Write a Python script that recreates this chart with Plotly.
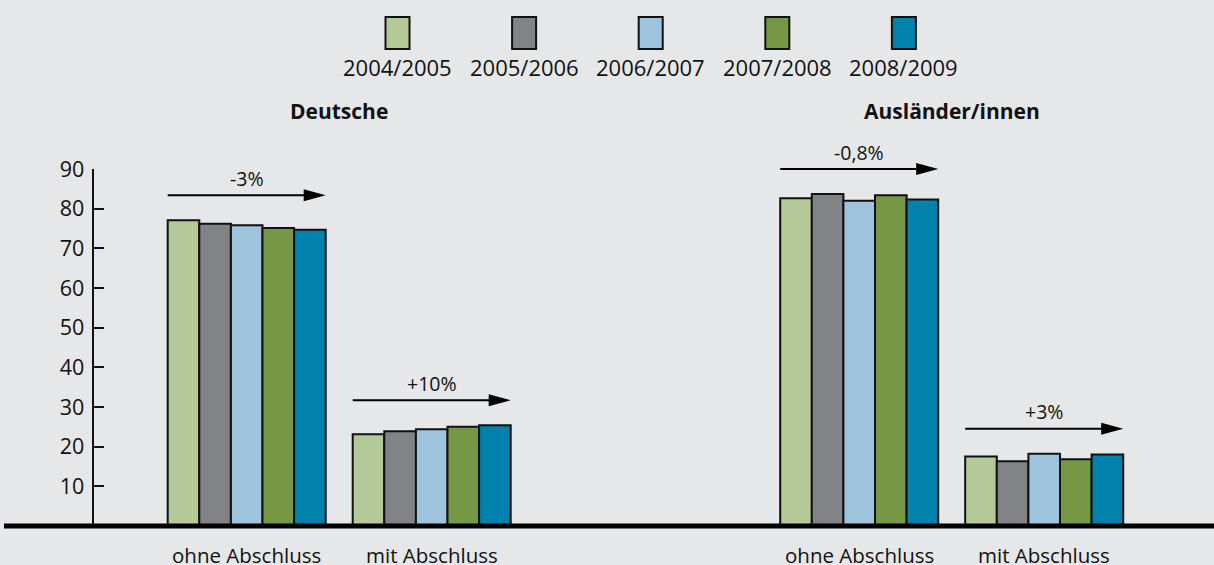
import plotly.graph_objects as go

# ---- data ----
years = ["2004/2005", "2005/2006", "2006/2007", "2007/2008", "2008/2009"]
groups = ["Deutsche", "Ausländer/innen"]
categories = ["ohne Abschluss", "mit Abschluss", "ohne Abschluss", "mit Abschluss"]
v_2004 = [77.1, 23.1, 82.6, 17.5]
v_2005 = [76.2, 23.9, 83.7, 16.3]
v_2006 = [75.8, 24.4, 82.0, 18.2]
v_2007 = [75.1, 25.0, 83.4, 16.8]
v_2008 = [74.7, 25.4, 82.3, 18.0]
change_labels = ["-3%", "+10%", "-0,8%", "+3%"]
y_ticks = [10, 20, 30, 40, 50, 60, 70, 80, 90]

series = [v_2004, v_2005, v_2006, v_2007, v_2008]
colors = ["#b5c998", "#828387", "#9ec4dd", "#769844", "#0082ac"]

# ---- layout constants (pixel-like x units) ----
W, H = 1214, 565
ML, MR, MT, MB = 4, 0, 169, 39
PH = H - MT - MB
x_pos = [246.7, 431.7, 859.2, 1044.2]
step = 185
group_w = 158
bargap = 1 - group_w / step
YMAX = 90
font_fam = "Open Sans, Noto Sans, sans-serif"
ink = "#111111"


def py_to_paper(py):
    return (H - MB - py) / PH


fig = go.Figure()
for name, vals, col in zip(years, series, colors):
    fig.add_trace(go.Bar(
        x=x_pos, y=vals, name=name,
        marker=dict(color=col, line=dict(color=ink, width=2)),
        cliponaxis=False, showlegend=False,
        hovertemplate="%{y}<extra>" + name + "</extra>",
    ))

shapes = []
annotations = []

# baseline
shapes.append(dict(type="line", xref="paper", yref="paper", x0=0, x1=1, y0=0, y1=0,
                   line=dict(color="#000000", width=5), layer="above"))

# arrows with change labels
head_len = 22
head_half = 6
for k, xc in enumerate(x_pos):
    vals_k = [s[k] for s in series]
    level = (max(vals_k) + 6.3) / YMAX
    x0 = xc - group_w / 2
    x1 = xc + group_w / 2
    shapes.append(dict(type="line", xref="x", yref="paper", x0=x0, x1=x1 - head_len + 2,
                       y0=level, y1=level, line=dict(color="#000000", width=2)))
    hh = head_half / PH
    shapes.append(dict(type="path", xref="x", yref="paper",
                       path=f"M {x1 - head_len},{level + hh} L {x1},{level} L {x1 - head_len},{level - hh} Z",
                       fillcolor="#000000", line=dict(color="#000000", width=0)))
    annotations.append(dict(xref="x", yref="paper", x=xc, y=level, yshift=17,
                            text=change_labels[k], showarrow=False,
                            font=dict(size=19.5, color=ink, family=font_fam),
                            xanchor="center", yanchor="middle"))
    annotations.append(dict(xref="x", yref="paper", x=xc, y=0, yshift=-29,
                            text=categories[k], showarrow=False,
                            font=dict(size=20.5, color=ink, family=font_fam),
                            xanchor="center", yanchor="middle"))

# group titles
for g, name in enumerate(groups):
    xc = (x_pos[2 * g] + x_pos[2 * g + 1]) / 2
    annotations.append(dict(xref="x", yref="paper", x=xc, y=py_to_paper(111),
                            text="<b>" + name + "</b>", showarrow=False,
                            font=dict(size=21, color=ink, family=font_fam),
                            xanchor="center", yanchor="middle"))

# custom legend: boxes above labels
leg_first = 397.5
leg_step = 126.6
box_w = 24
for i, (name, col) in enumerate(zip(years, colors)):
    cx = leg_first + i * leg_step
    shapes.append(dict(type="rect", xref="x", yref="paper",
                       x0=cx - box_w / 2, x1=cx + box_w / 2,
                       y0=py_to_paper(49), y1=py_to_paper(17),
                       fillcolor=col, line=dict(color=ink, width=2)))
    annotations.append(dict(xref="x", yref="paper", x=cx, y=py_to_paper(67),
                            text=name, showarrow=False,
                            font=dict(size=22, color=ink, family=font_fam),
                            xanchor="center", yanchor="middle"))

fig.update_layout(
    width=W, height=H,
    margin=dict(l=ML, r=MR, t=MT, b=MB, pad=0),
    paper_bgcolor="#e6e7e9", plot_bgcolor="#e6e7e9",
    barmode="group", bargap=bargap, bargroupgap=0,
    showlegend=False,
    shapes=shapes, annotations=annotations,
    xaxis=dict(range=[ML, W - MR], showgrid=False, zeroline=False, showline=False,
               showticklabels=False, ticks="", fixedrange=True),
    yaxis=dict(range=[0, YMAX], anchor="free", position=(93.3 - ML) / (W - ML - MR),
               tickvals=y_ticks, ticks="inside", ticklen=10, tickwidth=1.5, tickcolor=ink,
               showline=True, linecolor=ink, linewidth=1.5,
               showgrid=False, zeroline=False, automargin=False,
               tickfont=dict(size=21.5, color=ink, family=font_fam),
               ticklabelstandoff=4, fixedrange=True),
)

fig.write_html(
    "out.html",
    config={"displayModeBar": False},
    post_script="document.body.style.margin='0';document.body.style.overflow='hidden';",
)
